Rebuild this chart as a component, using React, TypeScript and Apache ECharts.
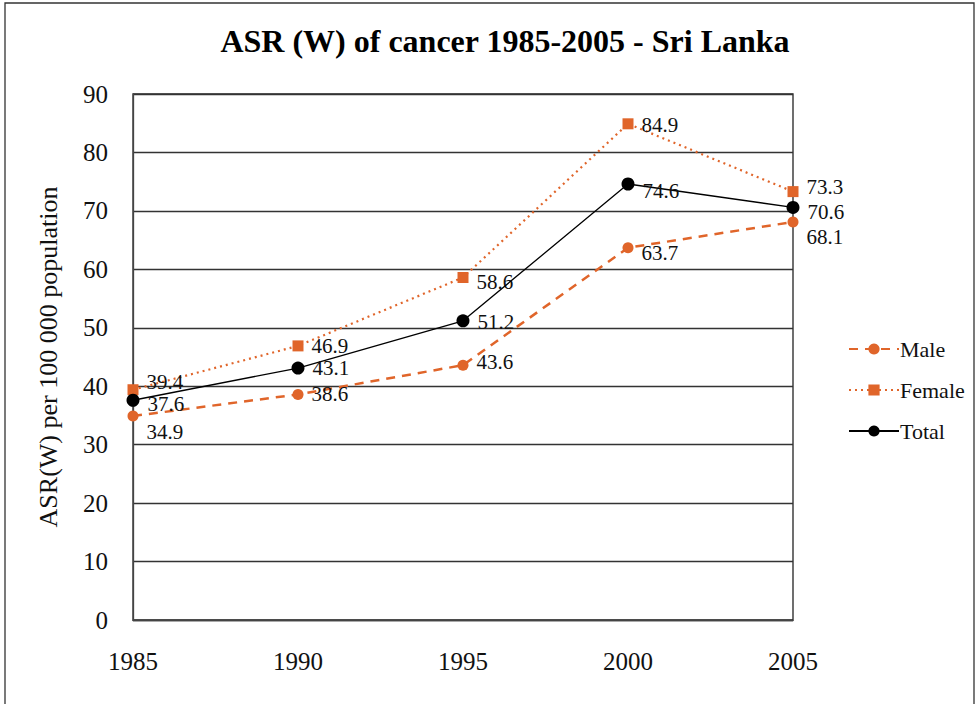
import React, { useEffect, useRef } from "react";
import * as echarts from "echarts";

const years = ["1985", "1990", "1995", "2000", "2005"];
const maleValues = [34.9, 38.6, 43.6, 63.7, 68.1];
const femaleValues = [39.4, 46.9, 58.6, 84.9, 73.3];
const totalValues = [37.6, 43.1, 51.2, 74.6, 70.6];
const yTicks = { min: 0, max: 90, interval: 10 };

const maleLabelOffsets = [[0, 16], [0, 0], [0, -3], [0, 5], [0, 15]];
const femaleLabelOffsets = [[0, -8], [0, 0], [0, 4], [0, 1], [0, -5]];
const totalLabelOffsets = [[0, 4], [0, 0], [0, 1], [0, 7], [0, 5]];

const ORANGE = "#E0652A";
const FONT = "'Liberation Serif', 'Times New Roman', serif";

function withLabels(values: number[], offsets: number[][]) {
  return values.map((v, i) => ({
    value: v,
    label: { offset: offsets[i] },
  }));
}

export default function App() {
  const ref = useRef<HTMLDivElement>(null);
  useEffect(() => {
    if (!ref.current) return;
    const chart = echarts.init(ref.current, null, { renderer: "svg" });
    const labelBase = {
      show: true,
      position: "right" as const,
      distance: 8,
      fontSize: 21,
      fontFamily: FONT,
      color: "#111",
    };
    chart.setOption({
      animation: false,
      backgroundColor: "#fff",
      textStyle: { fontFamily: FONT },
      title: {
        text: "ASR (W) of cancer 1985-2005 - Sri Lanka",
        left: 500,
        textAlign: "center",
        top: 20,
        textStyle: { fontFamily: FONT, fontSize: 32, fontWeight: "bold", color: "#000" },
      },
      graphic: [
        {
          type: "rect",
          shape: { x: 5, y: 3, width: 969, height: 720 },
          style: { fill: "none", stroke: "#333", lineWidth: 1.3 },
          silent: true,
        },
      ],
      legend: {
        orient: "vertical",
        left: 843,
        top: 333,
        itemGap: 19,
        itemWidth: 50,
        itemHeight: 14,
        textStyle: { fontFamily: FONT, fontSize: 22, color: "#111", padding: [0, 0, 0, -4] },
        data: ["Male", "Female", "Total"],
      },
      grid: { left: 133, right: 187, top: 94, bottom: 84, show: true, borderColor: "#222", borderWidth: 1.3 },
      xAxis: {
        type: "category",
        data: years,
        boundaryGap: false,
        axisTick: { show: false },
        axisLine: { show: true, lineStyle: { color: "#444", width: 1.3 } },
        axisLabel: { fontSize: 25, fontFamily: FONT, color: "#111", margin: 29 },
      },
      yAxis: {
        type: "value",
        min: yTicks.min,
        max: yTicks.max,
        interval: yTicks.interval,
        name: "ASR(W) per 100 000 population",
        nameLocation: "middle",
        nameGap: 72,
        nameTextStyle: { fontSize: 26, fontFamily: FONT, color: "#111" },
        axisLine: { show: true, lineStyle: { color: "#444", width: 1.3 } },
        axisTick: { show: false },
        splitLine: { lineStyle: { color: "#333", width: 1.3 } },
        axisLabel: { fontSize: 25, fontFamily: FONT, color: "#111", margin: 25 },
      },
      series: [
        {
          name: "Male",
          type: "line",
          data: withLabels(maleValues, maleLabelOffsets),
          symbol: "circle",
          symbolSize: 11,
          itemStyle: { color: ORANGE },
          lineStyle: { color: ORANGE, width: 2.5, type: [9, 7] },
          label: labelBase,
          z: 2,
        },
        {
          name: "Female",
          type: "line",
          data: withLabels(femaleValues, femaleLabelOffsets),
          symbol: "rect",
          symbolSize: 11,
          itemStyle: { color: ORANGE },
          lineStyle: { color: ORANGE, width: 2.2, type: [2, 4] },
          label: labelBase,
          z: 3,
        },
        {
          name: "Total",
          type: "line",
          data: withLabels(totalValues, totalLabelOffsets),
          symbol: "circle",
          symbolSize: 13,
          itemStyle: { color: "#000" },
          lineStyle: { color: "#000", width: 1.3 },
          label: labelBase,
          z: 4,
        },
      ],
    });
    return () => chart.dispose();
  }, []);
  return (
    <div
      ref={ref}
      style={{ position: "fixed", left: 0, top: 0, width: 980, height: 704 }}
    />
  );
}
